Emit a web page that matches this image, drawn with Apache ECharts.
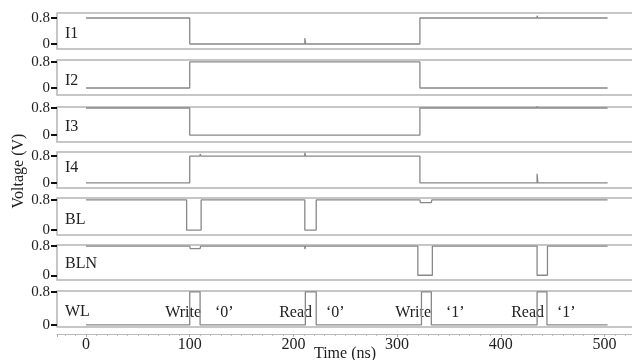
<!DOCTYPE html>
<html lang="en">
<head>
    <meta charset="UTF-8">
    <title>Waveforms</title>
    <script src="https://cdn.jsdelivr.net/npm/echarts@6/dist/echarts.min.js"></script>
    <style>
        body { margin: 0; background: #fff; }
    </style>
</head>
<body>
    <div id="main" style="width: 632px; height: 360px;"></div>
    <script>
        // signal names (top to bottom)
        var signalNames = ['I1', 'I2', 'I3', 'I4', 'BL', 'BLN', 'WL'];

        // waveforms as [time ns, voltage V]
        var I1 = [[0, 0.8], [100, 0.8], [100, 0], [110, 0], [110, -0.06], [110.8, 0], [211, 0], [211, 0.18], [211.8, 0],
            [222, 0], [222, -0.06], [222.8, 0], [322, 0], [322, 0.8], [333, 0.8], [333, 0.74], [333.8, 0.8],
            [435, 0.8], [435, 0.87], [435.8, 0.8], [444, 0.8], [444, 0.74], [444.8, 0.8], [503, 0.8]];
        var I2 = [[0, 0], [100, 0], [100, 0.8], [211, 0.8], [211, 0.74], [211.8, 0.8],
            [322, 0.8], [322, 0], [435, 0], [435, 0.05], [435.8, 0], [503, 0]];
        var I3 = [[0, 0.8], [100, 0.8], [100, 0], [211, 0], [211, 0.05], [211.8, 0], [322, 0], [322, 0.8],
            [435, 0.8], [435, 0.86], [435.8, 0.8], [503, 0.8]];
        var I4 = [[0, 0], [100, 0], [100, 0.8], [110, 0.8], [110, 0.86], [110.8, 0.8], [211, 0.8], [211, 0.9], [211.8, 0.8],
            [322, 0.8], [322, 0], [435, 0], [435, 0.27], [435.8, 0], [503, 0]];
        var BL = [[0, 0.8], [97, 0.8], [97, 0], [111, 0], [111, 0.8], [211, 0.8], [211, 0], [222, 0], [222, 0.8],
            [322, 0.8], [322.5, 0.73], [333, 0.73], [333.5, 0.8], [420, 0.8], [503, 0.8]];
        var BLN = [[0, 0.8], [100, 0.8], [100.5, 0.73], [110, 0.73], [110.5, 0.8], [160, 0.8], [211, 0.8], [211, 0.72], [211.8, 0.8],
            [320, 0.8], [320, 0], [334, 0], [334, 0.8], [435, 0.8], [435, 0], [445, 0], [445, 0.8], [503, 0.8]];
        var WL = [[0, 0], [100, 0], [100, 0.8], [110, 0.8], [110, 0], [211.5, 0], [211.5, 0.8], [222, 0.8], [222, 0],
            [323.5, 0], [323.5, 0.8], [333, 0.8], [333, 0], [435, 0], [435, 0.8], [444.5, 0.8], [444.5, 0], [503, 0]];
        var signals = [I1, I2, I3, I4, BL, BLN, WL];

        // axis tick labels
        var timeTicks = [0, 100, 200, 300, 400, 500];
        var voltTicks = [0, 0.8];

        // operation notes on the WL panel
        var notes = [
            { op: 'Write', bit: '\u20180\u2019' },
            { op: 'Read', bit: '\u20180\u2019' },
            { op: 'Write', bit: '\u20181\u2019' },
            { op: 'Read', bit: '\u20181\u2019' }
        ];

        // panel layout: top, height, y min, y max
        var panels = [
            [13, 36, -0.154, 0.954],
            [60, 35, -0.215, 0.86],
            [107, 35, -0.2, 0.83],
            [152, 36, -0.15, 0.92],
            [198, 37, -0.13, 0.85],
            [245, 35, -0.13, 0.83],
            [291, 36, -0.05, 0.82]
        ];
        var labelY = [34, 81, 127, 168, 220, 264, 312];
        var noteX = [[201, 215], [312, 326], [431, 446], [544, 557]];

        var font = 'Liberation Serif';
        var chartDom = document.getElementById('main');
        var myChart = echarts.init(chartDom);

        var grids = [], xAxes = [], yAxes = [], series = [], graphics = [];
        panels.forEach(function (p, i) {
            var last = i === panels.length - 1;
            grids.push({
                left: 57, right: -1, top: p[0], height: p[1],
                outerBoundsMode: 'none', containLabel: false,
                show: true, borderColor: '#b4b4b4', borderWidth: 1.5, backgroundColor: '#fff'
            });
            xAxes.push({
                type: 'value', gridIndex: i, min: -28, max: 527.5,
                show: last, offset: 7,
                name: last ? 'Time (ns)' : '', nameLocation: 'middle', nameGap: 12,
                nameMoveOverlap: false,
                nameTextStyle: { fontFamily: font, fontSize: 16, color: '#222' },
                axisLine: { show: true, onZero: false, lineStyle: { color: '#bbb', width: 1 } },
                axisTick: { show: true, length: 3, inside: false, lineStyle: { color: '#aaa' } },
                minorTick: { show: true, splitNumber: 10, length: 2, lineStyle: { color: '#bbb' } },
                axisLabel: {
                    fontFamily: font, fontSize: 16, color: '#222', margin: 3,
                    customValues: timeTicks
                },
                splitLine: { show: false }
            });
            yAxes.push({
                type: 'value', gridIndex: i, min: p[2], max: p[3],
                axisLine: { show: false, onZero: false },
                axisTick: { show: true, length: 6, customValues: voltTicks, lineStyle: { color: '#111', width: 2 } },
                axisLabel: {
                    fontFamily: font, fontSize: 15, color: '#222', margin: 7,
                    customValues: voltTicks,
                    formatter: function (v) { return v === 0 ? '0' : '0.8'; }
                },
                splitLine: { show: false }
            });
            series.push({
                type: 'line', xAxisIndex: i, yAxisIndex: i,
                data: signals[i], showSymbol: false, animation: false,
                lineStyle: { color: '#888', width: 1.3 }
            });
            graphics.push({
                type: 'text', x: 65, y: labelY[i],
                style: { text: signalNames[i], font: '16px "' + font + '"', fill: '#222', verticalAlign: 'middle' }
            });
        });

        notes.forEach(function (n, k) {
            graphics.push({
                type: 'text', x: noteX[k][0], y: 313,
                style: { text: n.op, font: '16px "' + font + '"', fill: '#222', align: 'right', verticalAlign: 'middle' }
            });
            graphics.push({
                type: 'text', x: noteX[k][1], y: 313,
                style: { text: n.bit, font: '16px "' + font + '"', fill: '#222', align: 'left', verticalAlign: 'middle' }
            });
        });

        graphics.push({
            type: 'text', x: 19, y: 171, rotation: Math.PI / 2,
            style: { text: 'Voltage (V)', font: '16px "' + font + '"', fill: '#222', align: 'center', verticalAlign: 'middle' }
        });

        var option = {
            animation: false,
            grid: grids,
            xAxis: xAxes,
            yAxis: yAxes,
            series: series,
            graphic: graphics
        };

        option && myChart.setOption(option);
    </script>
</body>
</html>
